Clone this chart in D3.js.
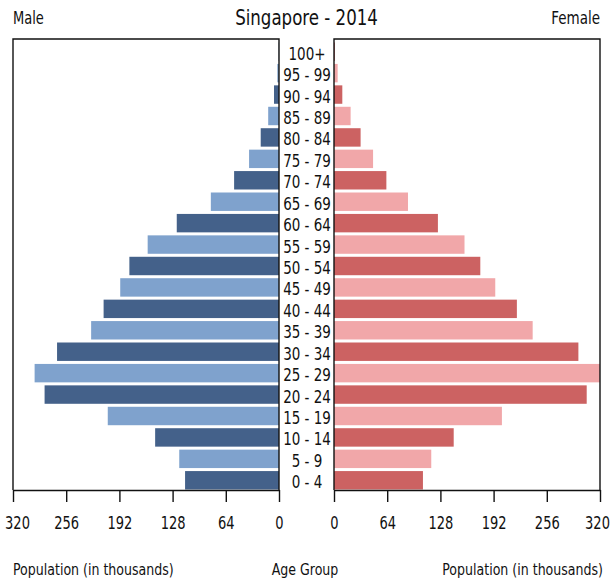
<!DOCTYPE html>
<html>
<head>
<meta charset="utf-8">
<script src="https://cdn.jsdelivr.net/npm/d3@7/dist/d3.min.js"></script>
<style>
  html, body { margin: 0; padding: 0; background: #fff; }
  svg text { font-family: "DejaVu Sans Condensed", "DejaVu Sans", sans-serif; fill: #111; }
</style>
</head>
<body>
<svg id="chart" width="614" height="581"></svg>
<script>
const title = "Singapore - 2014";
const ageGroups = ["0 - 4","5 - 9","10 - 14","15 - 19","20 - 24","25 - 29","30 - 34","35 - 39","40 - 44","45 - 49","50 - 54","55 - 59","60 - 64","65 - 69","70 - 74","75 - 79","80 - 84","85 - 89","90 - 94","95 - 99","100+"];
const male   = [113, 120, 149, 206, 282, 294, 267, 226, 211, 191, 180, 158, 123, 82, 54, 36, 22, 13, 6, 2, 0.3];
const female = [107, 117, 144, 202, 304, 320, 294, 239, 220, 194, 176, 157, 125, 89, 63, 47, 32, 20, 10, 4.4, 1];
const tickValues = [0, 64, 128, 192, 256, 320];
const maleColors = ["#44618a", "#7fa2cd"];
const femaleColors = ["#cc6262", "#f1a7a9"];

const svg = d3.select("#chart");
const plotTop = 39, plotBottom = 490;
const lx0 = 13, lx1 = 279, rx0 = 334, rx1 = 600;
const stretch = 1.18;

const xL = d3.scaleLinear().domain([320, 0]).range([lx0, lx1]);
const xR = d3.scaleLinear().domain([0, 320]).range([rx0, rx1]);
const y = d3.scaleBand().domain(ageGroups.slice().reverse()).range([41, 491]).paddingInner(0.14).paddingOuter(0.07);

const rows = ageGroups.map((a, i) => ({age: a, m: male[i], f: female[i], i}));

// bars
svg.append("g").selectAll("rect").data(rows).join("rect")
  .attr("x", d => xL(d.m)).attr("width", d => xL(0) - xL(d.m))
  .attr("y", d => y(d.age)).attr("height", y.bandwidth())
  .attr("fill", d => maleColors[d.i % 2]);
svg.append("g").selectAll("rect").data(rows).join("rect")
  .attr("x", xR(0)).attr("width", d => Math.min(xR(d.f), rx1) - xR(0))
  .attr("y", d => y(d.age)).attr("height", y.bandwidth())
  .attr("fill", d => femaleColors[d.i % 2]);

// frames
const frameStyle = s => s.attr("fill", "none").attr("stroke", "#111").attr("stroke-width", 1.4);
svg.append("path").attr("d", `M${lx0},${plotBottom}V${plotTop}H${lx1}V${plotBottom}`).call(frameStyle);
svg.append("path").attr("d", `M${rx0},${plotBottom}V${plotTop}H${rx1}V${plotBottom}`).call(frameStyle);

// axes
function styleAxis(edgeShift) {
  return g => {
    g.select(".domain").attr("stroke", "#111").attr("stroke-width", 1.4);
    g.selectAll(".tick line").attr("stroke", "#111").attr("stroke-width", 1.4);
    g.selectAll(".tick text")
      .attr("font-size", 14.5)
      .attr("font-family", "DejaVu Sans Condensed, DejaVu Sans, sans-serif")
      .attr("fill", "#111")
      .attr("y", null).attr("dy", null)
      .attr("dominant-baseline", "central")
      .attr("transform", d => `translate(${d === 320 ? edgeShift : 0},33) scale(1,${stretch})`);
  };
}
svg.append("g").attr("transform", `translate(0,${plotBottom})`)
  .call(d3.axisBottom(xL).tickValues(tickValues).tickSize(12).tickSizeOuter(0))
  .call(styleAxis(4));
svg.append("g").attr("transform", `translate(0,${plotBottom})`)
  .call(d3.axisBottom(xR).tickValues(tickValues).tickSize(12).tickSizeOuter(0))
  .call(styleAxis(-3));

// age labels
svg.append("g").selectAll("text").data(rows).join("text")
  .attr("transform", d => `translate(${(lx1 + rx0) / 2 + 0.5},${y(d.age) + y.bandwidth() / 2 + 2}) scale(1,${stretch})`)
  .attr("text-anchor", "middle").attr("dominant-baseline", "central")
  .attr("font-size", 15)
  .text(d => d.age);

// titles
function label(x, yy, txt, size, anchor) {
  svg.append("text")
    .attr("transform", `translate(${x},${yy}) scale(1,${stretch})`)
    .attr("text-anchor", anchor).attr("dominant-baseline", "central")
    .attr("font-size", size).text(txt);
}
label(306.5, 17, title, 18.5, "middle");
label(13, 18, "Male", 14.5, "start");
label(600, 18, "Female", 15, "end");
label(13, 570, "Population (in thousands)", 14, "start");
label(305, 570, "Age Group", 14, "middle");
label(603, 570, "Population (in thousands)", 14, "end");
</script>
</body>
</html>
